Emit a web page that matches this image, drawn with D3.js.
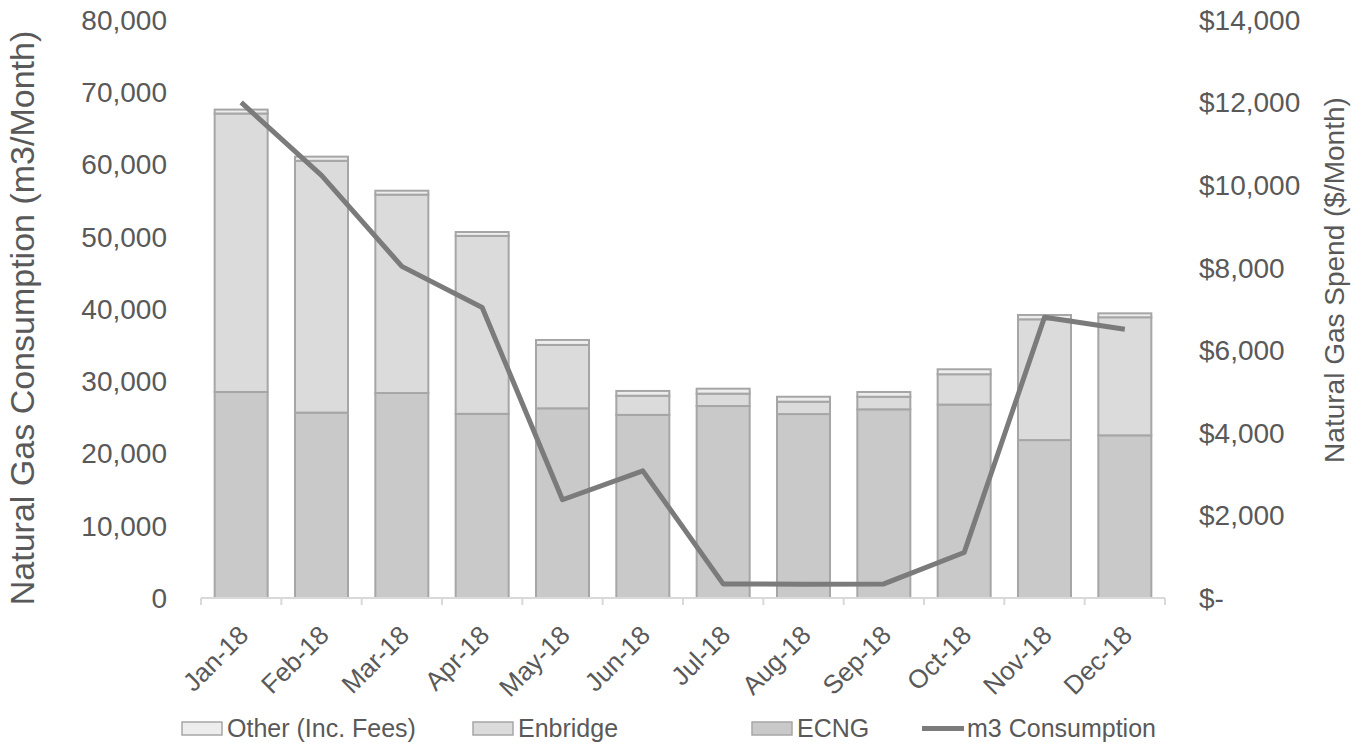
<!DOCTYPE html>
<html>
<head>
<meta charset="utf-8">
<script src="https://cdn.jsdelivr.net/npm/d3@7"></script>
<style>
  body { margin: 0; background: #fff; }
  text { font-family: "Liberation Sans", Arial, sans-serif; fill: #595959; }
</style>
</head>
<body>
<div id="chart"></div>
<script>
const WIDTH = 1370;
const HEIGHT = 747;

// values
const months = ["Jan-18", "Feb-18", "Mar-18", "Apr-18", "May-18", "Jun-18",
                "Jul-18", "Aug-18", "Sep-18", "Oct-18", "Nov-18", "Dec-18"];
const ecng     = [4990, 4490, 4965, 4460, 4595, 4435, 4650, 4455, 4570, 4685, 3825, 3940];
const enbridge = [6745, 6100, 4805, 4310, 1535, 465, 300, 300, 305, 735, 2925, 2860];
const other    = [95, 100, 95, 95, 120, 115, 120, 120, 115, 120, 105, 95];
const m3Consumption = [68600, 58500, 45900, 40200, 13600, 17600, 1950, 1900, 1950, 6300, 38850, 37200];

const leftTicks = [0, 10000, 20000, 30000, 40000, 50000, 60000, 70000, 80000];
const rightTicks = [0, 2000, 4000, 6000, 8000, 10000, 12000, 14000];

const seriesKeys = ["ECNG", "Enbridge", "Other (Inc. Fees)"];
const fills = { "ECNG": "#c9c9c9", "Enbridge": "#dbdbdb", "Other (Inc. Fees)": "#ededed" };

const margin = { top: 20, right: 205, bottom: 149, left: 201 };
const innerW = WIDTH - margin.left - margin.right;
const innerH = HEIGHT - margin.top - margin.bottom;

const svg = d3.select("#chart").append("svg")
    .attr("width", WIDTH)
    .attr("height", HEIGHT);

const g = svg.append("g")
    .attr("transform", `translate(${margin.left}, ${margin.top})`);

const x = d3.scaleBand().domain(months).range([0, innerW]).paddingInner(0.34).paddingOuter(0.17);
const yLeft = d3.scaleLinear().domain([0, 80000]).range([innerH, 0]);
const yRight = d3.scaleLinear().domain([0, 14000]).range([innerH, 0]);

const rows = months.map((m, i) => ({
    month: m,
    "ECNG": ecng[i],
    "Enbridge": enbridge[i],
    "Other (Inc. Fees)": other[i]
}));

const stacked = d3.stack().keys(seriesKeys)(rows);

// bars
g.selectAll("g.layer").data(stacked)
    .enter().append("g")
    .attr("class", "layer")
    .attr("fill", d => fills[d.key])
    .selectAll("rect").data(d => d)
    .enter().append("rect")
    .attr("x", d => x(d.data.month))
    .attr("y", d => yRight(d[1]))
    .attr("width", x.bandwidth())
    .attr("height", d => yRight(d[0]) - yRight(d[1]))
    .attr("stroke", "#a6a6a6")
    .attr("stroke-width", 2);

// x axis line + ticks
const xAxis = g.append("g").attr("transform", `translate(0, ${innerH})`);
xAxis.append("line")
    .attr("x1", 0).attr("x2", innerW)
    .attr("stroke", "#d9d9d9").attr("stroke-width", 2);
const bounds = d3.range(months.length + 1).map(i => i * innerW / months.length);
xAxis.selectAll("line.tick").data(bounds)
    .enter().append("line")
    .attr("class", "tick")
    .attr("x1", d => d).attr("x2", d => d)
    .attr("y1", 0).attr("y2", 7)
    .attr("stroke", "#d9d9d9").attr("stroke-width", 2);

xAxis.selectAll("text").data(months)
    .enter().append("text")
    .attr("text-anchor", "end")
    .attr("transform", d => `translate(${x(d) + x.bandwidth() / 2 - 4}, 26) rotate(-45)`)
    .attr("dy", "0.7em")
    .style("font-size", "26px")
    .text(d => d);

// left axis labels
g.append("g").selectAll("text").data(leftTicks)
    .enter().append("text")
    .attr("x", -34)
    .attr("y", d => yLeft(d))
    .attr("dy", "0.35em")
    .attr("text-anchor", "end")
    .style("font-size", "28px")
    .text(d => d3.format(",")(d));

// right axis labels
g.append("g").selectAll("text").data(rightTicks)
    .enter().append("text")
    .attr("x", innerW + 34)
    .attr("y", d => yRight(d))
    .attr("dy", "0.35em")
    .attr("text-anchor", "start")
    .style("font-size", "28px")
    .text(d => d === 0 ? "$-" : "$" + d3.format(",")(d));

// axis titles
svg.append("text")
    .attr("transform", `translate(22, 318) rotate(-90)`)
    .attr("text-anchor", "middle")
    .attr("dy", "0.35em")
    .style("font-size", "34px")
    .text("Natural Gas Consumption (m3/Month)");

svg.append("text")
    .attr("transform", `translate(1334, 280) rotate(-90)`)
    .attr("text-anchor", "middle")
    .attr("dy", "0.35em")
    .style("font-size", "28px")
    .text("Natural Gas Spend ($/Month)");

// consumption line
const line = d3.line()
    .x((d, i) => x(months[i]) + x.bandwidth() / 2)
    .y(d => yLeft(d));

g.append("path")
    .datum(m3Consumption)
    .attr("d", line)
    .attr("fill", "none")
    .attr("stroke", "#7b7b7b")
    .attr("stroke-width", 5)
    .attr("stroke-linejoin", "round");

// legend
const legendItems = [
    { name: "Other (Inc. Fees)", x: 182, type: "rect" },
    { name: "Enbridge", x: 473, type: "rect" },
    { name: "ECNG", x: 752, type: "rect" },
    { name: "m3 Consumption", x: 922, type: "line" }
];
const legend = svg.append("g").attr("class", "legend");
legendItems.forEach(item => {
    if (item.type === "rect") {
        legend.append("rect")
            .attr("x", item.x).attr("y", 722)
            .attr("width", 40).attr("height", 13)
            .attr("fill", fills[item.name])
            .attr("stroke", "#a6a6a6").attr("stroke-width", 1.5);
    } else {
        legend.append("line")
            .attr("x1", item.x).attr("x2", item.x + 42)
            .attr("y1", 728.5).attr("y2", 728.5)
            .attr("stroke", "#7b7b7b").attr("stroke-width", 5);
    }
    legend.append("text")
        .attr("x", item.x + 45)
        .attr("y", 728.5)
        .attr("dy", "0.35em")
        .style("font-size", "25px")
        .text(item.name);
});
</script>
</body>
</html>
